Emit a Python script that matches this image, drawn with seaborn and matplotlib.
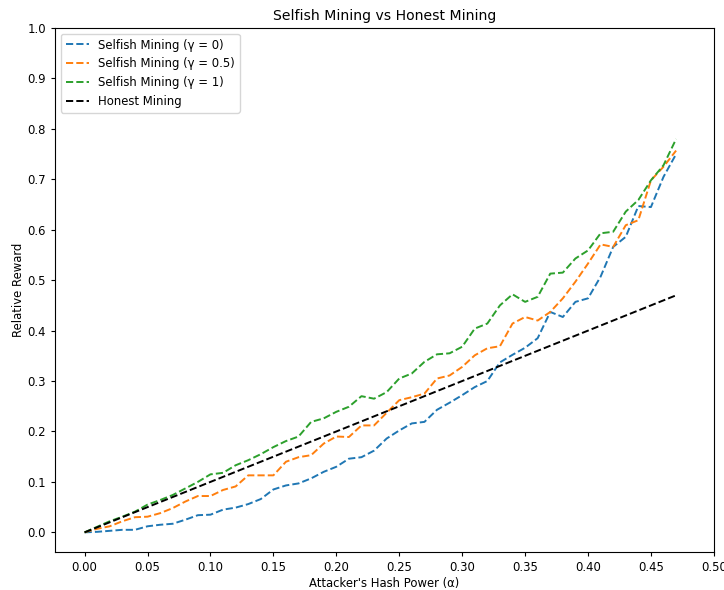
import numpy as np
import pandas as pd
import matplotlib
matplotlib.use("Agg")
import matplotlib.pyplot as plt
import seaborn as sns

# Attacker hash power, 0.00 .. 0.47
alpha = [round(0.01 * i, 2) for i in range(48)]

reward_gamma0 = [0.000, 0.001, 0.003, 0.005, 0.005, 0.012, 0.015, 0.017, 0.025, 0.034,
                 0.035, 0.045, 0.049, 0.056, 0.066, 0.085, 0.093, 0.097, 0.107, 0.120,
                 0.130, 0.146, 0.149, 0.162, 0.186, 0.202, 0.216, 0.219, 0.243, 0.257,
                 0.272, 0.288, 0.300, 0.337, 0.352, 0.366, 0.385, 0.437, 0.427, 0.457,
                 0.464, 0.507, 0.566, 0.586, 0.647, 0.645, 0.705, 0.750]

reward_gamma05 = [0.000, 0.007, 0.012, 0.022, 0.030, 0.031, 0.038, 0.048, 0.061, 0.072,
                  0.072, 0.084, 0.091, 0.113, 0.113, 0.113, 0.140, 0.149, 0.153, 0.176,
                  0.190, 0.189, 0.212, 0.212, 0.237, 0.262, 0.268, 0.275, 0.305, 0.311,
                  0.328, 0.351, 0.365, 0.369, 0.414, 0.427, 0.420, 0.437, 0.464, 0.497,
                  0.533, 0.571, 0.566, 0.609, 0.619, 0.698, 0.725, 0.757]

reward_gamma1 = [0.000, 0.011, 0.022, 0.031, 0.041, 0.055, 0.064, 0.074, 0.087, 0.100,
                 0.115, 0.118, 0.133, 0.143, 0.155, 0.169, 0.181, 0.190, 0.219, 0.226,
                 0.239, 0.249, 0.270, 0.265, 0.278, 0.305, 0.315, 0.338, 0.353, 0.355,
                 0.368, 0.404, 0.414, 0.450, 0.472, 0.457, 0.467, 0.513, 0.515, 0.543,
                 0.559, 0.593, 0.596, 0.636, 0.659, 0.698, 0.728, 0.780]

# Honest mining earns exactly its share of hash power
reward_honest = list(alpha)

series = [
    ("Selfish Mining (γ = 0)", reward_gamma0, "#1f77b4"),
    ("Selfish Mining (γ = 0.5)", reward_gamma05, "#ff7f0e"),
    ("Selfish Mining (γ = 1)", reward_gamma1, "#2ca02c"),
    ("Honest Mining", reward_honest, "black"),
]

plt.rcParams["font.size"] = 8.4
plt.rcParams["xtick.major.size"] = 3.0
plt.rcParams["ytick.major.size"] = 3.0

fig, ax = plt.subplots(figsize=(7.24, 5.9), dpi=100)
fig.subplots_adjust(left=0.076, right=0.986, top=0.9525, bottom=0.0644)

for label, values, color in series:
    df = pd.DataFrame({"alpha": alpha, "reward": values})
    sns.lineplot(data=df, x="alpha", y="reward", ax=ax, color=color,
                 linestyle="--", linewidth=1.4, label=label)

ax.set_xlim(-0.0235, 0.5)
ax.set_ylim(-0.039, 1.0)
ax.set_xticks(np.arange(0, 0.501, 0.05))
ax.set_xticklabels([f"{v:.2f}" for v in np.arange(0, 0.501, 0.05)])
ax.set_yticks(np.arange(0, 1.001, 0.1))
ax.set_yticklabels([f"{v:.1f}" for v in np.arange(0, 1.001, 0.1)])
ax.set_title("Selfish Mining vs Honest Mining")
ax.set_xlabel("Attacker's Hash Power (α)", labelpad=2)
ax.set_ylabel("Relative Reward", labelpad=2)
ax.legend(loc="upper left")

fig.savefig("out.png", dpi=100)
